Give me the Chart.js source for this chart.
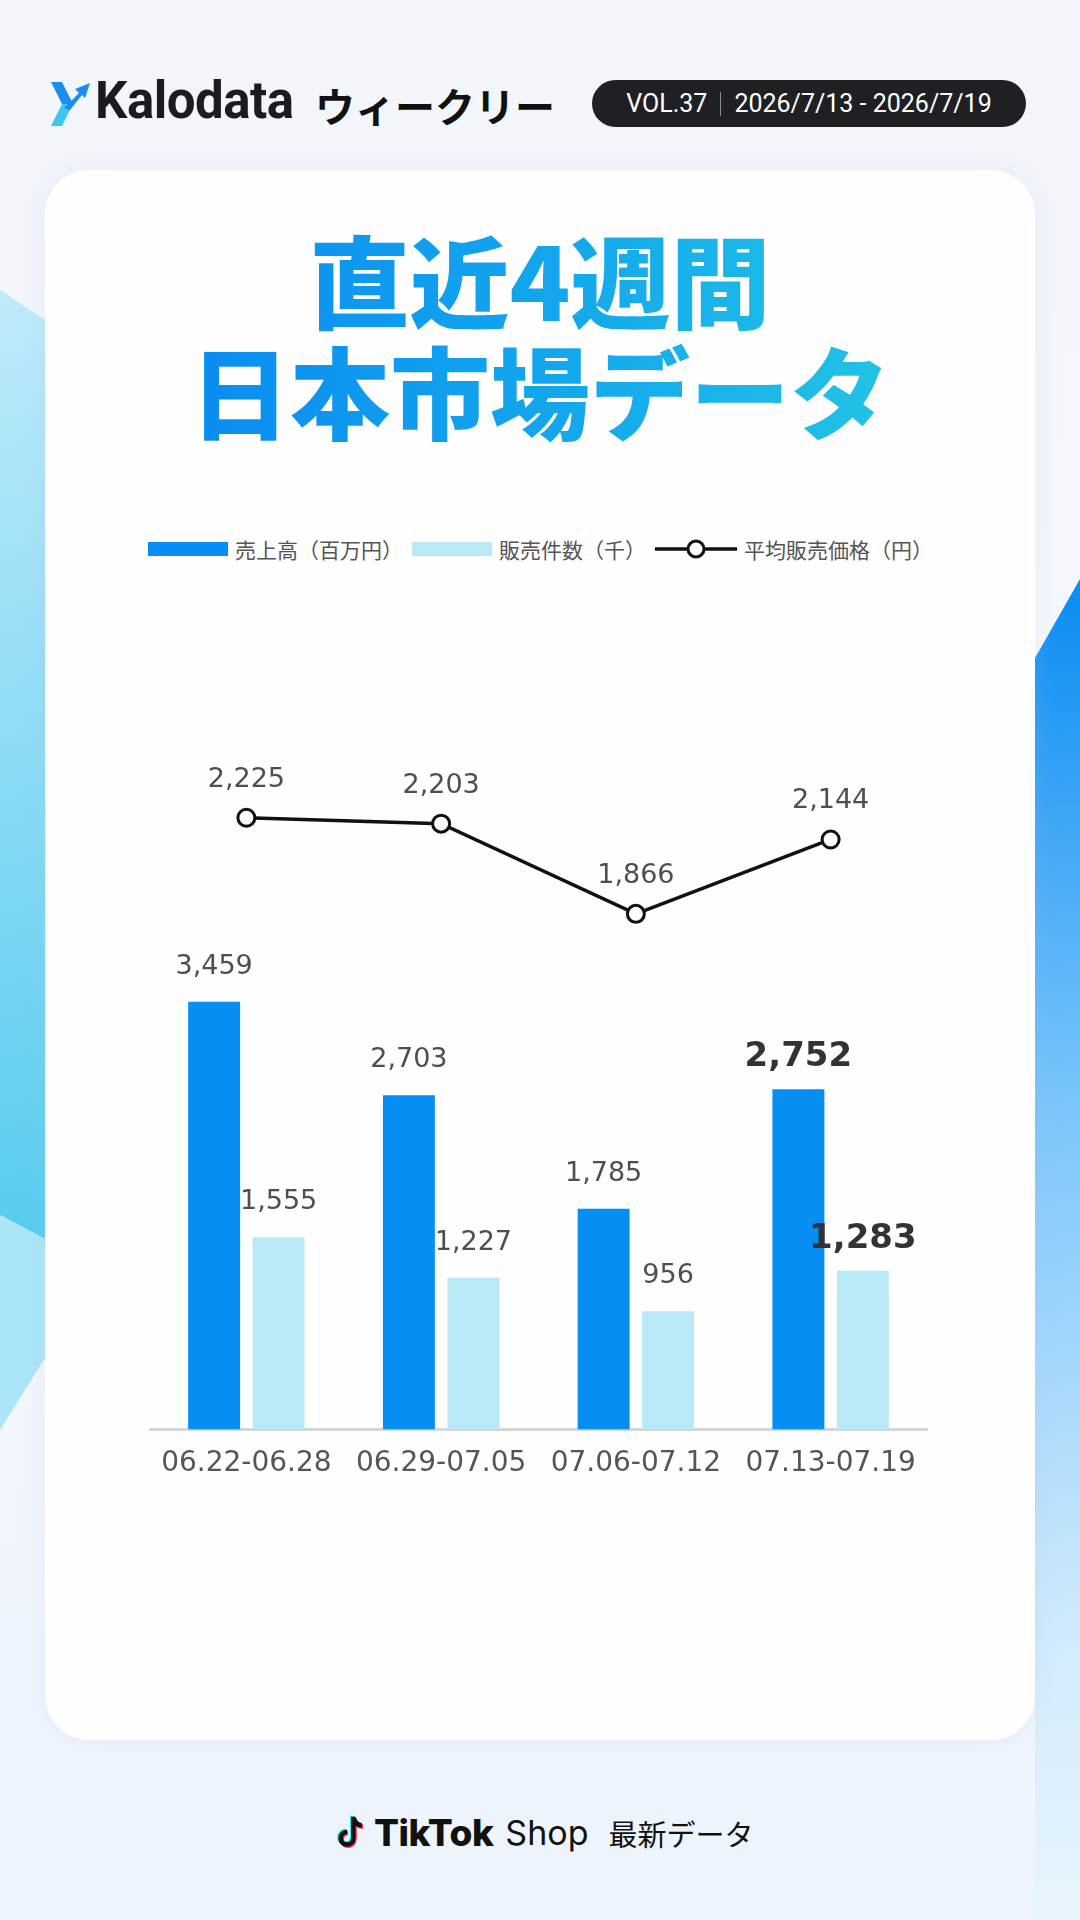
<!DOCTYPE html>
<html lang="ja">
<head>
<meta charset="utf-8">
<title>直近4週間 日本市場データ</title>
<script src="https://cdn.jsdelivr.net/npm/chart.js@4.4.1/dist/chart.umd.min.js"></script>
<style>
  html, body { margin: 0; padding: 0; }
  body {
    width: 1080px; height: 1920px; position: relative; overflow: hidden;
    background: linear-gradient(180deg, #f2f5fa 0%, #f5f8fd 55%, #edf4fc 100%);
    font-family: "Noto Sans CJK JP", "Noto Sans", sans-serif;
  }
  .bg { position: absolute; left: 0; top: 0; }
  .card {
    position: absolute; left: 45px; top: 170px; width: 990px; height: 1570px;
    background: #fefeff; border-radius: 44px;
    box-shadow: 0 0 24px rgba(170, 195, 225, 0.18);
  }
  .logo { position: absolute; left: 51px; top: 82px; }
  .brand {
    position: absolute; left: 95px; top: 71px; font-family: Roboto, sans-serif;
    font-weight: 700; font-size: 51px; color: #1c1c20; letter-spacing: -0.5px;
  }
  .weekly {
    position: absolute; left: 315px; top: 76px; font-weight: 700; font-size: 40px; color: #111;
  }
  .pill {
    position: absolute; left: 592px; top: 80px; width: 434px; height: 47px;
    border-radius: 24px; background: #1f2024; color: #fff;
    display: flex; align-items: center; justify-content: center;
    font-family: Roboto, sans-serif; font-size: 25px;
  }
  .pill .sep { width: 1px; height: 24px; background: #8a8a8e; margin: 0 13px; }
  .title-wrap { position: absolute; left: 0; top: 222px; width: 1080px; text-align: center; }
  .title {
    display: inline-block; white-space: nowrap;
    font-size: 100px; line-height: 111px; font-weight: 900;
    background: linear-gradient(90deg, #0a8cf2 0%, #14a8ec 55%, #21c3e5 100%);
    -webkit-background-clip: text; background-clip: text; color: transparent;
  }
  .legend {
    position: absolute; left: 148px; top: 532px; height: 34px;
    display: flex; align-items: center; font-size: 21px; color: #555;
  }
  .legend .item { display: flex; align-items: center; margin-right: 9px; }
  .legend .box { width: 80px; height: 14px; margin-right: 7px; }
  .legend .mark { width: 82px; height: 22px; margin-right: 7px; }
  .chart-wrap { position: absolute; left: 149px; top: 640px; }
  .footer {
    position: absolute; left: 336px; top: 1810px; display: flex; align-items: center; color: #111;
  }
  .footer .tt { font-family: Inter, sans-serif; font-weight: 800; font-size: 37px; margin-left: 8px; letter-spacing: -0.5px; }
  .footer .shop { font-family: Inter, sans-serif; font-size: 34px; margin-left: 12px; }
  .footer .jp { font-size: 29px; margin-left: 20px; }
</style>
</head>
<body>
<svg class="bg" width="1080" height="1920">
  <defs>
    <linearGradient id="gl" x1="0" y1="0" x2="0" y2="1">
      <stop offset="0" stop-color="#bfeafa"/>
      <stop offset="1" stop-color="#56ccef"/>
    </linearGradient>
    <linearGradient id="gr" x1="0" y1="0" x2="0" y2="1">
      <stop offset="0" stop-color="#0a8cf2"/>
      <stop offset="0.4" stop-color="#7cc6fb"/>
      <stop offset="0.8" stop-color="#d3ebfc"/>
      <stop offset="1" stop-color="#e8f4fd"/>
    </linearGradient>
  </defs>
  <polygon points="0,290 45,320 45,1239 0,1215" fill="url(#gl)"/>
  <polygon points="0,1215 45,1239 45,1358 0,1430" fill="#aae5f8"/>
  <polygon points="1035,658 1080,579 1080,1920 1035,1920" fill="url(#gr)"/>
</svg>

<svg class="logo" width="40" height="44" viewBox="0 0 40 44">
  <polygon points="0,0 11,0 22,22 11,22" fill="#1a8ff0"/>
  <polygon points="11,22 22,22 11,44 0,44" fill="#3ec6ee"/>
  <polygon points="13,26 28,11 24,7 39,1 34,16 31,13 19,28" fill="#1b8cf0"/>
</svg>
<div class="brand">Kalodata</div>
<div class="weekly">ウィークリー</div>
<div class="pill"><span>VOL.37</span><span class="sep"></span><span>2026/7/13 - 2026/7/19</span></div>

<div class="card"></div>

<div class="title-wrap"><div class="title">直近4週間<br>日本市場データ</div></div>

<div class="legend" id="legend"></div>

<div class="chart-wrap">
  <canvas id="myChart" width="779" height="851"></canvas>
</div>

<div class="footer">
  <svg width="30" height="40" viewBox="0 0 26 30">
    <path transform="translate(-1,-1)" fill="#25f4ee" d="M13 1h4c.3 3 2.4 5.2 5.4 5.5v4c-2 0-3.9-.6-5.4-1.7V19.5a7.5 7.5 0 1 1-7.5-7.5v4a3.5 3.5 0 1 0 3.5 3.5z"/>
    <path transform="translate(1,1)" fill="#fe2c55" d="M13 1h4c.3 3 2.4 5.2 5.4 5.5v4c-2 0-3.9-.6-5.4-1.7V19.5a7.5 7.5 0 1 1-7.5-7.5v4a3.5 3.5 0 1 0 3.5 3.5z"/>
    <path fill="#111" d="M13 1h4c.3 3 2.4 5.2 5.4 5.5v4c-2 0-3.9-.6-5.4-1.7V19.5a7.5 7.5 0 1 1-7.5-7.5v4a3.5 3.5 0 1 0 3.5 3.5z"/>
  </svg>
  <span class="tt">TikTok</span><span class="shop">Shop</span><span class="jp">最新データ</span>
</div>

<script>
// data
const weeks = ["06.22-06.28", "06.29-07.05", "07.06-07.12", "07.13-07.19"];
const sales = [3459, 2703, 1785, 2752];      // 売上高（百万円）
const orders = [1555, 1227, 956, 1283];      // 販売件数（千）
const avgPrice = [2225, 2203, 1866, 2144];   // 平均販売価格（円）
const seriesNames = ["売上高（百万円）", "販売件数（千）", "平均販売価格（円）"];

const salesColor = "#078ef3";
const ordersColor = "#b9e8f7";
const lineColor = "#111111";

// legend (html)
const legend = document.getElementById("legend");
[salesColor, ordersColor, null].forEach((color, i) => {
  const item = document.createElement("div");
  item.className = "item";
  if (color) {
    item.innerHTML = '<span class="box" style="background:' + color + '"></span>';
  } else {
    item.innerHTML =
      '<svg class="mark" viewBox="0 0 82 22"><line x1="0" y1="11" x2="82" y2="11" stroke="#111" stroke-width="3.5"/>' +
      '<circle cx="41" cy="11" r="8" fill="#fff" stroke="#111" stroke-width="3"/></svg>';
  }
  const txt = document.createElement("span");
  txt.textContent = seriesNames[i];
  item.appendChild(txt);
  legend.appendChild(item);
});

// value labels above bars / points
const valueLabels = {
  id: "valueLabels",
  afterDatasetsDraw(chart) {
    const ctx = chart.ctx;
    ctx.save();
    ctx.textAlign = "center";
    ctx.textBaseline = "alphabetic";
    chart.data.datasets.forEach((ds, i) => {
      const meta = chart.getDatasetMeta(i);
      meta.data.forEach((el, j) => {
        const isLine = ds.type === "line";
        const latest = !isLine && j === ds.data.length - 1;
        ctx.font = latest ? "bold 34px 'DejaVu Sans'" : "27px 'DejaVu Sans'";
        ctx.fillStyle = latest ? "#333" : "#4f4f4f";
        const gap = isLine ? 31 : latest ? 23 : 28;
        ctx.fillText(ds.data[j].toLocaleString("en-US"), el.x, el.y - gap);
      });
    });
    ctx.restore();
  },
};

let myChart = document.getElementById("myChart").getContext("2d");

new Chart(myChart, {
  type: "bar",
  data: {
    labels: weeks,
    datasets: [
      {
        type: "line",
        label: seriesNames[2],
        data: avgPrice,
        yAxisID: "y1",
        borderColor: lineColor,
        borderWidth: 3.5,
        pointRadius: 8.5,
        pointBorderWidth: 3,
        pointBackgroundColor: "#fff",
        pointBorderColor: lineColor,
        tension: 0,
      },
      {
        label: seriesNames[0],
        data: sales,
        backgroundColor: salesColor,
        yAxisID: "y",
      },
      {
        label: seriesNames[1],
        data: orders,
        backgroundColor: ordersColor,
        yAxisID: "y",
      },
    ],
  },
  options: {
    responsive: false,
    animation: false,
    layout: { autoPadding: false, padding: { top: 60, left: 0, right: 0, bottom: 0 } },
    datasets: {
      bar: { categoryPercentage: 0.662, barPercentage: 0.806 },
    },
    plugins: {
      legend: { display: false },
      tooltip: { enabled: false },
    },
    scales: {
      x: {
        z: 1,
        grid: { display: false },
        border: { display: true, color: "#d5d6da", width: 3 },
        ticks: {
          color: "#555",
          font: { family: "DejaVu Sans", size: 28 },
          padding: 10,
          maxRotation: 0,
          autoSkip: false,
        },
      },
      y: { display: false, min: 0, max: 5900 },
      y1: { display: false, position: "right", min: -60, max: 2665 },
    },
  },
  plugins: [valueLabels],
});
</script>
</body>
</html>
